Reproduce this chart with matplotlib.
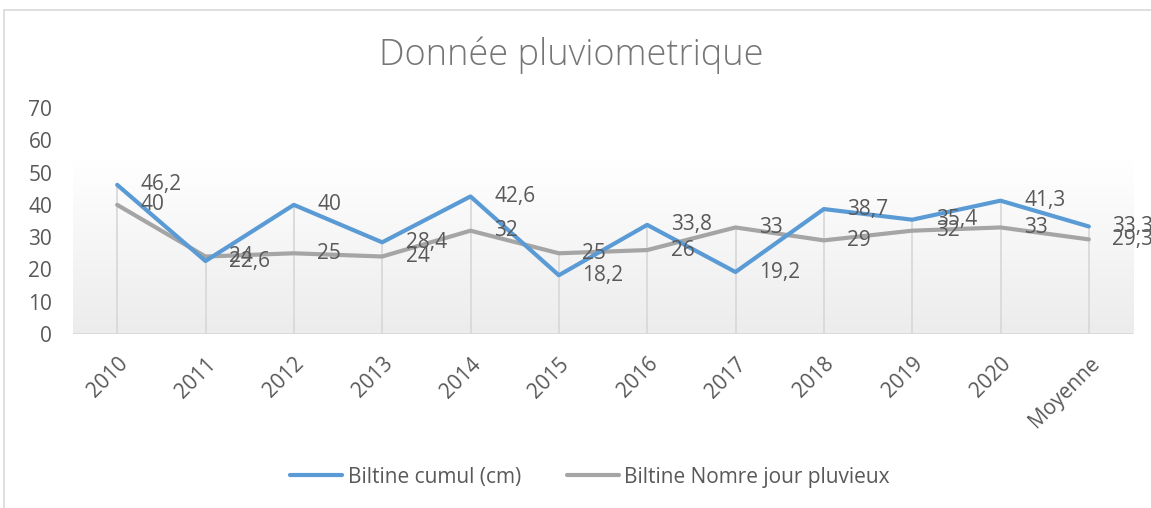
import numpy as np
import matplotlib.pyplot as plt
from matplotlib.patches import Rectangle
from matplotlib.colors import LinearSegmentedColormap

plt.rcParams['font.family'] = ['Open Sans', 'DejaVu Sans']

categories = ['2010', '2011', '2012', '2013', '2014', '2015', '2016', '2017',
              '2018', '2019', '2020', 'Moyenne']
cumul = [46.2, 22.6, 40, 28.4, 42.6, 18.2, 33.8, 19.2, 38.7, 35.4, 41.3, 33.3]
jours = [40, 24, 25, 24, 32, 25, 26, 33, 29, 32, 33, 29.3]
yticks = [0, 10, 20, 30, 40, 50, 60, 70]

blue = '#5b9bd5'
grey = '#a5a5a5'
txt = '#595959'
fs = 15

fig = plt.figure(figsize=(11.51, 5.08), dpi=100)
fig.patches.append(Rectangle((4/1151, -0.1), 1.2, (508-10)/508 + 0.1,
                             transform=fig.transFigure, fill=False,
                             edgecolor='#d9d9d9', lw=1.2))

ax = fig.add_axes([73/1151, 174/508, 1060/1151, (334-108)/508])
x = np.arange(len(categories))
ax.set_xlim(-0.5, len(categories) - 0.5)
ax.set_ylim(0, 70)

# gradient background like the excel plot area
cmap = LinearSegmentedColormap.from_list('g', ['#ececec', '#ffffff'])
grad = np.linspace(0, 1, 100).reshape(-1, 1)
ax.imshow(grad, cmap=cmap, origin='lower', aspect='auto',
          extent=(-0.5, len(categories) - 0.5, 0, 54.5), zorder=0)

# drop lines
top = np.maximum(cumul, jours)
ax.vlines(x, 0, top, color='#d9d9d9', lw=1.3, zorder=1)
ax.axhline(0, color='#d9d9d9', lw=1.3, zorder=1)

ax.plot(x, cumul, color=blue, lw=3, label='Biltine cumul (cm)', zorder=3,
        solid_capstyle='round')
ax.plot(x, jours, color=grey, lw=3, label='Biltine Nomre jour pluvieux', zorder=2,
        solid_capstyle='round')

def fmt(v):
    return ('%g' % v).replace('.', ',')

for xi, v in zip(x, cumul):
    ax.annotate(fmt(v), (xi, v), xytext=(17, 0), textcoords='offset points',
                ha='left', va='center', fontsize=fs, color=txt, zorder=4,
                annotation_clip=False)
for xi, v in zip(x, jours):
    ax.annotate(fmt(v), (xi, v), xytext=(17, 0), textcoords='offset points',
                ha='left', va='center', fontsize=fs, color=txt, zorder=4,
                annotation_clip=False)

ax.set_yticks(yticks)
ax.set_yticklabels([str(t) for t in yticks], fontsize=fs, color=txt)
ax.set_xticks(x)
ax.set_xticklabels(categories, fontsize=fs, color=txt, rotation=45,
                   ha='right', va='top', rotation_mode='anchor')
ax.tick_params(length=0)
ax.tick_params(axis='x', pad=14)
ax.tick_params(axis='y', pad=15)
for s in ax.spines.values():
    s.set_visible(False)
ax.patch.set_alpha(0)

fig.text(571/1151, 1 - 55/508, 'Donnée pluviometrique', ha='center', va='center',
         fontsize=26, color='#767676', fontweight='light')

fig.legend(loc='center', bbox_to_anchor=(590/1151, 1 - 477/508), ncol=2,
           frameon=False, fontsize=fs, labelcolor=txt, handlelength=2.5,
           handletextpad=0.25, columnspacing=2.2)

fig.savefig('out.png', dpi=100)
